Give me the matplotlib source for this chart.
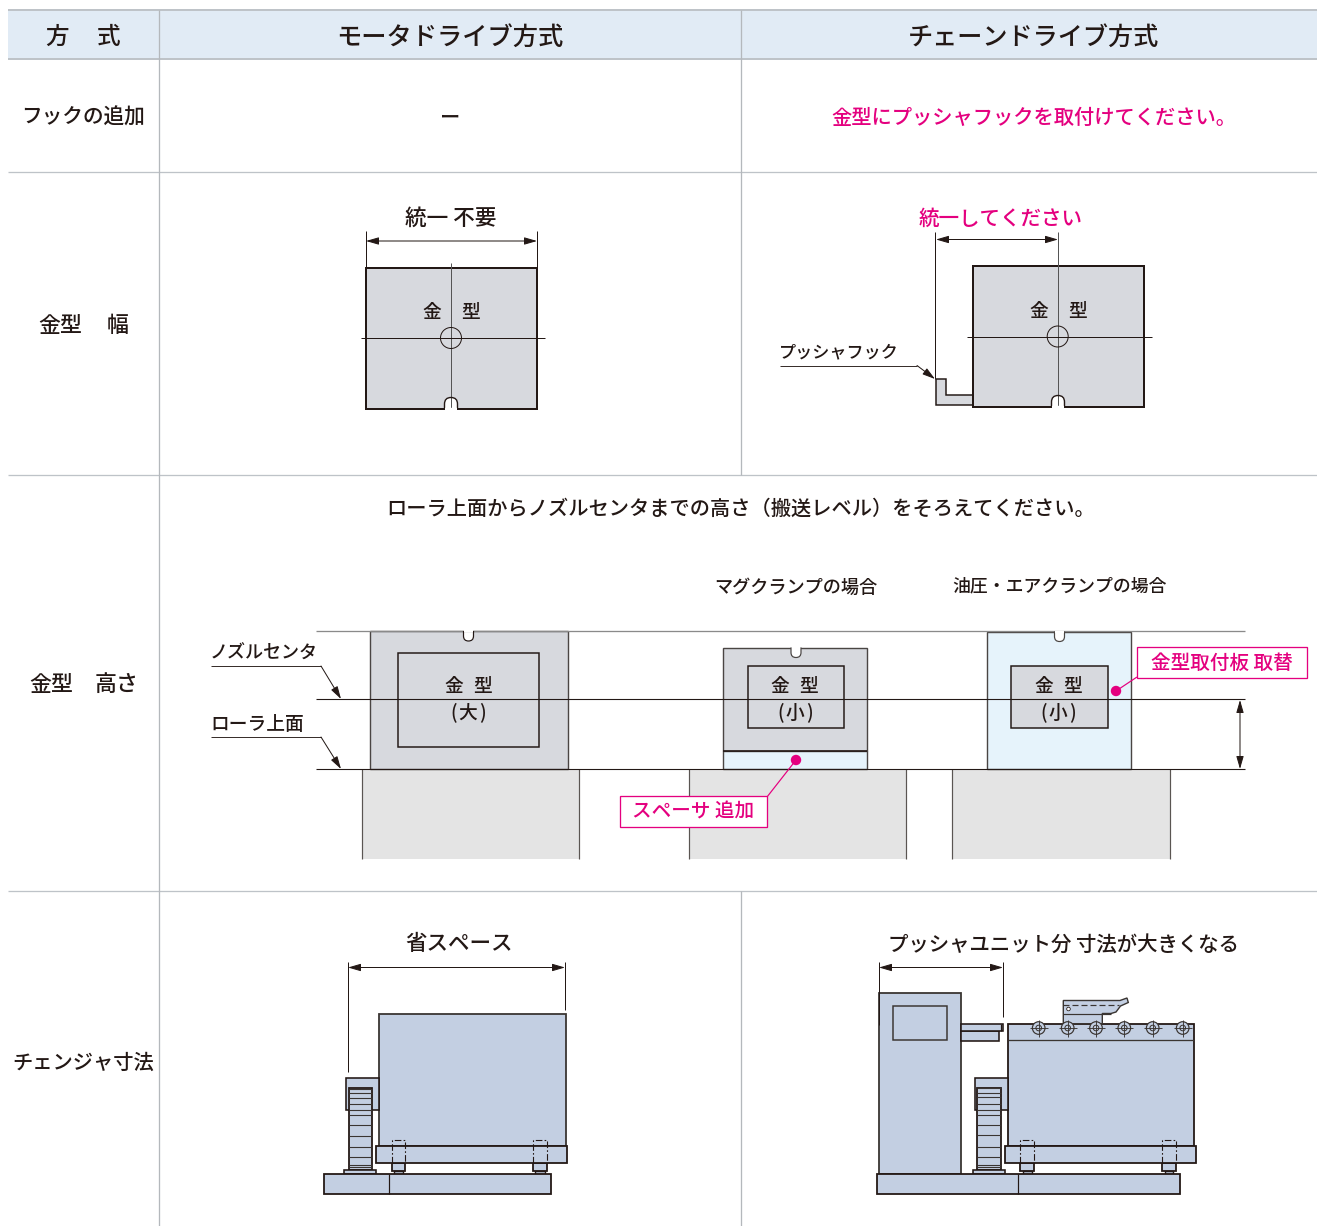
import matplotlib
matplotlib.use('Agg')
import matplotlib.pyplot as plt
from matplotlib.patches import Rectangle, Polygon, Circle, PathPatch
from matplotlib.path import Path

plt.rcParams['font.family'] = ['Noto Sans CJK JP', 'DejaVu Sans']

INK = '#231815'
MAGENTA = '#E4007F'
GRID = '#BEC3C8'
HEAD = '#E1EBF5'
DIE = '#D7D9DE'
BASE = '#E4E4E4'
PLATE = '#E6F3FB'
MACH = '#C3CFE2'

header_labels = ['モータドライブ方式', 'チェーンドライブ方式']
row_labels = ['フックの追加', 'チェンジャ寸法']
hook_note = '金型にプッシャフックを取付けてください。'
height_note = 'ローラ上面からノズルセンタまでの高さ（搬送レベル）をそろえてください。'
width_labels = ['統一 不要', '統一してください']
clamp_labels = ['マグクランプの場合', '油圧・エアクランプの場合']
size_labels = ['省スペース', 'プッシャユニット分 寸法が大きくなる']
callouts = ['スペーサ 追加', '金型取付板 取替']
roller_x = [1038.7, 1067.7, 1096, 1124.3, 1152.7, 1182.7]
rungs_a = [1089, 1093, 1098, 1104, 1110, 1115, 1125, 1136, 1147, 1157, 1165, 1167]
rungs_b = [1088, 1093, 1097, 1104, 1110, 1115, 1125, 1135, 1147, 1157, 1165, 1167]

fig = plt.figure(figsize=(13.17, 12.26), dpi=100)
ax = fig.add_axes([0, 0, 1, 1])
ax.set_xlim(0, 1317)
ax.set_ylim(1226, 0)
ax.axis('off')


def px(w):
    return w * 0.72


def rect(x0, y0, x1, y1, fc='none', ec=INK, lw=1.6, z=2):
    ax.add_patch(Rectangle((x0, y0), x1 - x0, y1 - y0, fc=fc, ec=ec, lw=px(lw), zorder=z))


def line(xs, ys, c=INK, lw=1.0, z=3, **kw):
    ax.plot(xs, ys, color=c, lw=px(lw), zorder=z, solid_capstyle='butt', **kw)


def txt(x, y, s, size=14.3, c=INK, ha='center', z=6):
    ax.text(x, y + 1.5, s, fontsize=size, color=c, ha=ha, va='center', zorder=z, fontweight='medium')


def paren(x, y, s, size=13.5):
    txt(x, y, s, size=size)


def dim(x0, y0, x1, y1, z=4):
    ax.annotate('', xy=(x1, y1), xytext=(x0, y0), zorder=z,
                arrowprops=dict(arrowstyle='<|-|>,head_length=0.55,head_width=0.16', color=INK,
                                lw=px(1.0), shrinkA=0, shrinkB=0, mutation_scale=14))


def tip(x0, y0, x1, y1, z=4):
    ax.annotate('', xy=(x1, y1), xytext=(x0, y0), zorder=z,
                arrowprops=dict(arrowstyle='-|>,head_length=0.55,head_width=0.16', color=INK,
                                lw=px(1.0), shrinkA=0, shrinkB=0, mutation_scale=14))


def notch(x, y, w, h, sign, ec=INK, lw=1.4, z=3):
    # sign=-1: opening at the bottom edge, arch upwards; sign=+1: opening at the top edge
    r = w / 2
    s = sign
    verts = [(x - r, y), (x - r, y + s * (h - r)),
             (x - r, y + s * h), (x, y + s * h), (x, y + s * h),
             (x + r, y + s * h), (x + r, y + s * (h - r)), (x + r, y)]
    codes = [Path.MOVETO, Path.LINETO, Path.CURVE3, Path.CURVE3, Path.LINETO, Path.CURVE3, Path.CURVE3, Path.LINETO]
    ax.add_patch(PathPatch(Path(verts, codes), fc='white', ec='none', lw=0, zorder=z))
    ax.add_patch(PathPatch(Path(verts, codes), fc='none', ec=ec, lw=px(lw), zorder=z + 0.1))
    line([x - r + 0.7, x + r - 0.7], [y, y], c='white', lw=2.4, z=z + 0.2)


def callout(x0, y0, x1, y1, s):
    rect(x0, y0, x1, y1, fc='white', ec=MAGENTA, lw=1.3, z=5)
    txt((x0 + x1) / 2, (y0 + y1) / 2 - 0.5, s, size=14.1, c=MAGENTA)


def dot(x, y, r=5.2):
    ax.add_patch(Circle((x, y), r, fc=MAGENTA, ec='none', zorder=5))


# ---------- table ----------
ax.add_patch(Rectangle((8, 11), 1309, 48, fc=HEAD, ec='none', zorder=0))
line([8, 1317], [10, 10], c=GRID, lw=2, z=1)
line([8, 1317], [59, 59], c=GRID, lw=2, z=1)
for yy in (172, 474.8, 890.8):
    line([8, 1317], [yy, yy], c=GRID, lw=1.3, z=1)
line([158.8, 158.8], [10, 1226], c='#B4B8BC', lw=1.3, z=1)
line([741.4, 741.4], [10, 475], c='#B4B8BC', lw=1.3, z=1)
line([741.4, 741.4], [891, 1226], c='#B4B8BC', lw=1.3, z=1)

txt(57.5, 36, '方', size=17)
txt(109, 36, '式', size=17)
txt(450, 36, header_labels[0], size=18.2)
txt(1033, 36, header_labels[1], size=18.1)

txt(82.5, 116, row_labels[0], size=14.9)
txt(450, 116, 'ー', size=14.6)
txt(1033.5, 116, hook_note, size=14.6, c=MAGENTA)
txt(60.5, 324, '金型', size=15.8)
txt(118, 324, '幅', size=15.8)
txt(51, 683, '金型', size=15.8)
txt(117, 683, '高さ', size=15.8)
txt(83.5, 1061, row_labels[1], size=14.6)

# ---------- die width, left ----------
txt(451, 217, width_labels[0], size=15.6)
rect(366, 267.5, 537, 409, fc=DIE, lw=2)
notch(451, 409, 13, 11.5, -1)
line([451, 451], [263, 409], c='#555555', lw=1.0)
line([361, 545], [338, 338], lw=1.0)
ax.add_patch(Circle((451, 338), 10.5, fc='none', ec=INK, lw=px(1), zorder=3))
line([366, 366], [231, 267], lw=1.0)
line([537, 537], [231, 267], lw=1.0)
dim(366, 241, 537, 241)
txt(432, 311, '金', size=13.5)
txt(471, 311, '型', size=13.5)

# ---------- die width, right ----------
txt(1001, 217, width_labels[1], size=14.8, c=MAGENTA)
ax.add_patch(Polygon([(935.5, 379), (946, 379), (946, 394.7), (972.5, 394.7), (972.5, 405), (935.5, 405)],
                     closed=True, fc=DIE, ec=INK, lw=px(1.5), zorder=2))
rect(972.5, 266, 1144, 407, fc=DIE, lw=2)
notch(1058, 407, 13, 11.5, -1)
line([1057.7, 1057.7], [232, 407], c='#555555', lw=1.0)
line([967, 1152], [336.5, 336.5], lw=1.0)
ax.add_patch(Circle((1057.7, 336.5), 10.5, fc='none', ec=INK, lw=px(1), zorder=3))
line([935.3, 935.3], [232, 379], lw=1.0)
dim(936, 239.5, 1058, 239.5)
txt(1039, 310, '金', size=13.5)
txt(1077.5, 310, '型', size=13.5)
txt(838.5, 351, 'プッシャフック', size=12.3)
line([780, 917], [365.5, 365.5], lw=0.9)
tip(917, 365.5, 935, 379)

# ---------- die height ----------
txt(741, 507.5, height_note, size=14.55)
txt(795.5, 586, clamp_labels[0], size=13.1)
txt(1060, 585, clamp_labels[1], size=12.85)

for x0, x1 in ((362, 579), (688.7, 906), (952, 1170)):
    ax.add_patch(Rectangle((x0, 769), x1 - x0, 89.5, fc=BASE, ec='none', zorder=1))
    line([x0, x0], [769, 858.5], c='#5A5552', lw=1.2, z=2)
    line([x1, x1], [769, 858.5], c='#5A5552', lw=1.2, z=2)

rect(369.5, 631, 568, 769, fc=DIE, ec='#4A4543', lw=1.4)
rect(398, 653, 539, 747, fc=DIE, lw=1.5)
notch(468.5, 631, 10, 10, 1, lw=1.2)
rect(723.3, 647.5, 867.3, 751, fc=DIE, ec='#4A4543', lw=1.4)
rect(723.3, 751, 867.3, 769, fc=PLATE, ec='#4A4543', lw=1.4)
line([723.3, 867.3], [751, 751], lw=1.6)
rect(748, 666, 844, 728, fc=DIE, lw=1.5)
notch(796, 647.5, 10, 10, 1, ec='#4A4543', lw=1.2)
rect(987, 631.5, 1131, 769, fc=PLATE, ec='#4A4543', lw=1.4)
rect(1011, 666, 1107.5, 728, fc=DIE, lw=1.5)
notch(1059.5, 631.5, 10, 10, 1, ec='#4A4543', lw=1.2)

line([316, 1245], [630.6, 630.6], c='#8A8A8A', lw=1.3, z=3)
line([316, 1245], [699, 699], lw=1.1, z=4)
line([316, 1245], [769, 769], lw=1.1, z=4)

for x, s in ((453.5, '金'), (483, '型'), (780, '金'), (809, '型'), (1044, '金'), (1073, '型')):
    txt(x, 685, s, size=13.5)
for xc, s in ((468, '大'), (795, '小'), (1058, '小')):
    txt(xc, 711.5, s, size=13.5)
    paren(xc - 14.5, 711, '(')
    paren(xc + 14.5, 711, ')')

txt(264, 652, 'ノズルセンタ', size=13)
line([211, 321], [666, 666], lw=0.9)
tip(321, 666, 341, 699)
txt(257, 723, 'ローラ上面', size=13.5)
line([211, 321], [737, 737], lw=0.9)
tip(321, 737, 341, 769)
dim(1240, 700, 1240, 769)

line([767, 796], [797, 760], c=MAGENTA, lw=1.2, z=5)
dot(796, 760)
callout(619.5, 796, 767, 827, callouts[0])
line([1116, 1137], [691, 677], c=MAGENTA, lw=1.2, z=5)
dot(1116, 691)
callout(1137, 647, 1307, 678, callouts[1])


# ---------- changer size ----------
def under_frame(block_l, block_r, plate_l, plate_r, feet, side_l, col_l, col_r, foot_l, foot_r, rungs):
    # side box, column and foot
    rect(side_l, 1077.5, block_l, 1110, fc=MACH, lw=1.6, z=2)
    rect(col_l, 1088, col_r, 1169.5, fc=MACH, lw=1.8, z=2.2)
    for y in rungs:
        line([col_l, col_r], [y, y], c='#3A3532', lw=1.1, z=2.4)
    rect(foot_l, 1169.5, foot_r, 1174, fc=MACH, lw=1.6, z=2.3)
    # plate, feet
    rect(plate_l, 1145.7, plate_r, 1163, fc=MACH, lw=1.8, z=2.6)
    for fx0, fx1, lx0, lx1 in feet:
        rect(fx0, 1163, fx1, 1171, fc=MACH, lw=1.8, z=2.3)
        rect(lx0, 1171, lx1, 1174, fc=MACH, lw=1.4, z=2.3)
        ax.plot([fx0, fx0, fx1, fx1], [1163, 1139.5, 1139.5, 1163], color=INK, lw=px(1.1),
                ls=(0, (6, 2, 1.5, 2)), zorder=3)


txt(459, 943, size_labels[0], size=15.5)
line([348, 348], [962, 1072], lw=1.0)
line([565, 565], [962, 1010], lw=1.0)
dim(348, 967.5, 565, 967.5)
rect(324, 1174, 551, 1193.7, fc=MACH, lw=1.8, z=2.5)
line([389.3, 389.3], [1174, 1193.7], lw=1.2, z=3)
rect(379, 1014, 565.7, 1146, fc=MACH, ec='#3A3532', lw=1.8)
under_frame(379, 565.7, 376.3, 567.3, [(391.7, 405, 393.5, 403.3), (533, 547.3, 535, 545.3)],
            346, 348.7, 372, 344, 376, rungs_a)

txt(1063, 943, size_labels[1], size=14.7)
line([878.7, 878.7], [962, 1025], lw=1.0)
line([1003, 1003], [962, 1017], lw=1.0)
dim(879, 967.5, 1003, 967.5)
rect(876.7, 1174, 1179.7, 1193.7, fc=MACH, lw=1.8, z=2.5)
line([1017.7, 1017.7], [1174, 1193.7], lw=1.2, z=3)
rect(878.7, 993.3, 961.3, 1174, fc=MACH, ec='#3A3532', lw=1.8)
rect(893, 1006, 947, 1040.3, fc=MACH, ec='#3A3532', lw=1.5)
rect(961.3, 1031, 999, 1041, fc=MACH, lw=1.6)
rect(961.3, 1023.7, 1003.3, 1031, fc=MACH, lw=1.6)
line([1000.5, 1000.5], [1023.7, 1031], lw=1.2)
rect(1007.7, 1023.7, 1194, 1145.7, fc=MACH, lw=1.8)
line([1007.7, 1194], [1040, 1040], c='#3A3532', lw=1.3)
under_frame(1007.7, 1194, 1004.7, 1196, [(1020, 1034, 1022.7, 1032), (1162.3, 1176, 1165, 1173.3)],
            975, 977.3, 1000.7, 972.7, 1005, rungs_b)

# pusher on top of the rollers
ax.add_patch(Polygon([(1063.3, 1000.5), (1120, 1000.5), (1127, 998), (1128.3, 1002.5), (1120.5, 1006),
                      (1116, 1012), (1111, 1013.5), (1102.3, 1013.5), (1102.3, 1023.7), (1063.3, 1023.7)],
                     closed=True, fc=MACH, ec='#3A3532', lw=px(1.4), zorder=2.5))
line([1063.3, 1119], [1005, 1005], c='#3A3532', lw=1.2, z=3, ls=(0, (5, 2.5)))
line([1063.3, 1111], [1013.5, 1013.5], c='#3A3532', lw=1.2)
ax.add_patch(Circle((1068.5, 1009), 1.8, fc='white', ec=INK, lw=px(0.8), zorder=3))

for x in roller_x:
    y = 1028
    ax.add_patch(Circle((x, y), 6.3, fc=MACH, ec='#3A3532', lw=px(1.2), zorder=4))
    ax.add_patch(Circle((x, y), 2.8, fc=MACH, ec='#3A3532', lw=px(1.0), zorder=4.1))
    line([x - 9, x + 9], [y, y], c='#3A3532', lw=0.9, z=4.2)
    line([x, x], [y - 8.5, y + 8.5], c='#3A3532', lw=0.9, z=4.2)

fig.savefig('out.png', dpi=100, facecolor='white')
